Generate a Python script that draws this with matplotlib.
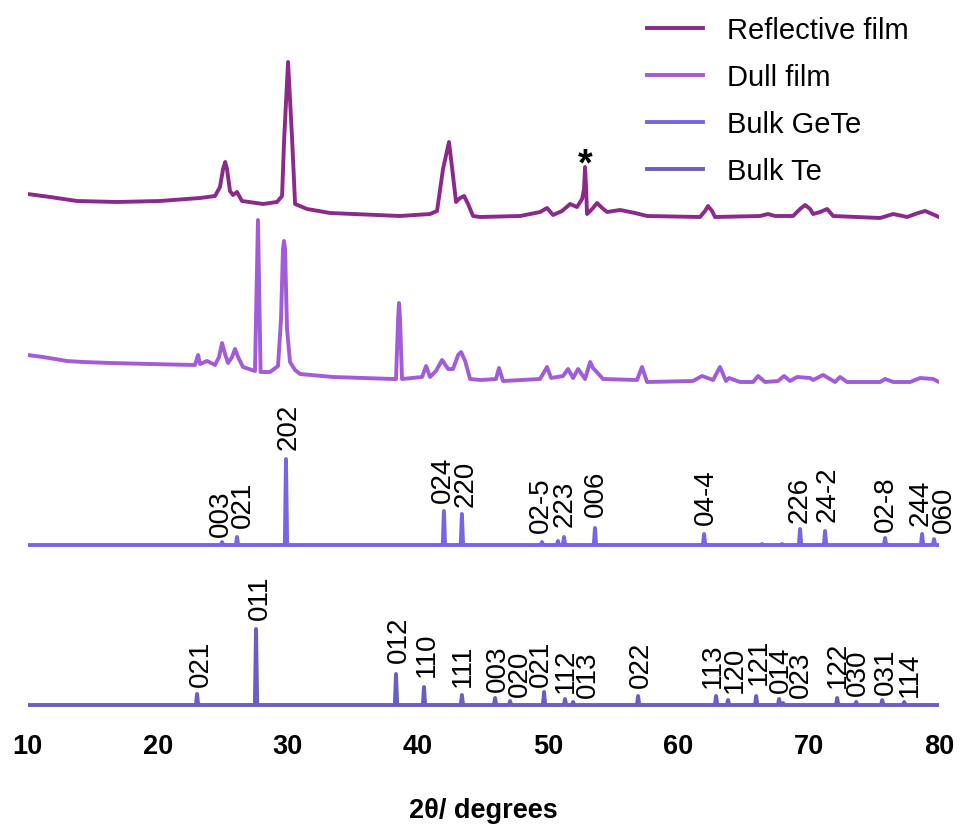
import matplotlib
matplotlib.use("Agg")
import matplotlib.pyplot as plt

plt.rcParams['font.family'] = ['Liberation Sans', 'DejaVu Sans']

# ---------------- data ----------------
refl_2theta = [10.0, 11.73, 13.80, 16.87, 20.18, 23.25, 24.40, 24.78, 25.02, 25.18, 25.32,
               25.55, 25.78, 26.09, 26.47, 28.09, 29.16, 29.55, 29.71, 30.01,
               30.32, 30.55, 31.47, 33.24, 38.61, 40.91, 41.45, 41.91, 42.37, 42.68,
               42.91, 43.22, 43.53, 43.83, 44.22, 44.75, 47.83, 49.37, 49.90, 50.36,
               51.05, 51.67, 52.20, 52.59, 52.74, 52.82, 52.90, 52.97, 53.36, 53.74,
               54.13, 54.51, 55.51, 56.66, 57.58, 61.65, 62.03, 62.26, 62.57, 62.80,
               66.26, 66.87, 67.41, 68.79, 69.33, 69.72, 70.10, 70.33, 70.87, 71.41,
               71.87, 75.48, 76.48, 77.55, 78.40, 78.94, 79.48, 80.0]
refl_int = [25, 22, 18, 17, 18, 21, 23, 32, 50, 57, 50,
            28, 24, 27, 18, 15, 17, 23, 80, 157,
            80, 15, 10, 6, 3, 5, 8, 50, 77, 43,
            17, 21, 23, 15, 3, 2, 3, 7, 11, 4,
            8, 15, 12, 20, 30, 52, 30, 5, 10, 16,
            11, 7, 9, 6, 3, 2, 8, 13, 8, 2,
            3, 5, 3, 3, 10, 14, 10, 5, 7, 10,
            3, 1, 5, 2, 6, 8, 5, 2]

dull_2theta = [10.0, 11.19, 13.03, 14.26, 16.34, 19.41, 22.86, 23.10, 23.25, 23.79, 24.40, 24.71,
               24.94, 25.17, 25.40, 25.71, 25.94, 26.17, 26.55, 27.47, 27.70, 27.90,
               28.63, 29.24, 29.47, 29.62, 29.70, 29.78, 29.93, 30.16, 30.55, 30.93,
               33.47, 38.07, 38.30, 38.46, 38.53, 38.61, 38.76, 40.30, 40.61, 40.91,
               41.37, 41.84, 42.30, 42.68, 43.07, 43.30, 43.61, 43.99, 44.83, 45.98,
               46.21, 46.52, 49.36, 49.90, 50.21, 51.13, 51.51, 51.90, 52.28, 52.82,
               53.21, 53.43, 54.20, 56.81, 57.19, 57.58, 61.11, 61.80, 62.65, 63.18,
               63.64, 63.87, 64.72, 65.72, 66.10, 66.64, 67.64, 68.10, 68.56, 69.10,
               70.10, 70.33, 71.10, 72.02, 72.40, 72.94, 75.48, 75.86, 76.48, 77.78,
               78.55, 79.55, 80.0]
dull_int = [28, 26, 22, 21, 20, 19, 18, 28, 19, 22, 18, 26,
            40, 29, 20, 26, 34, 26, 16, 12, 163, 11,
            11, 17, 64, 134, 142, 134, 54, 21, 13, 9,
            6, 4, 4, 64, 80, 64, 4, 6, 17, 6,
            12, 23, 14, 14, 28, 31, 22, 4, 3, 4,
            15, 2, 4, 16, 5, 7, 14, 5, 14, 4,
            21, 15, 4, 3, 16, 1, 2, 7, 3, 16,
            2, 5, 1, 1, 7, 1, 2, 7, 2, 6,
            5, 3, 8, 1, 6, 1, 1, 4, 1, 1,
            5, 4, 1]

gete_pos = [24.94, 26.09, 29.85, 41.98, 43.36, 49.51, 50.74, 51.20, 53.58, 61.96,
            66.41, 67.95, 69.33, 71.25, 75.86, 78.70, 79.62]
gete_int = [3, 8, 86, 34, 31, 3, 4, 8, 17, 11,
            1, 1, 16, 14, 7, 11, 6]
gete_hkl = ['003', '021', '202', '024', '220', '02-5', '', '223', '006', '04-4',
            '', '', '226', '24-2', '02-8', '244', '060']

te_pos = [23.02, 27.55, 38.30, 40.45, 43.36, 45.91, 47.06, 49.67, 51.28, 51.90,
          56.89, 62.88, 63.80, 65.96, 67.72, 68.03, 72.18, 73.64, 75.64, 77.33]
te_int = [11, 76, 31, 18, 10, 7, 4, 13, 6, 3,
          9, 9, 5, 9, 6, 2, 7, 3, 5, 3]
te_hkl = ['021', '011', '012', '110', '111', '003', '020', '021', '112', '013',
          '022', '113', '120', '121', '014', '023', '122', '030', '031', '114']

series_names = ['Reflective film', 'Dull film', 'Bulk GeTe', 'Bulk Te']

# ---------------- layout / style ----------------
colors = ['#8B2A8C', '#A25BD9', '#7B64E3', '#6A5EC2']
offsets = [500, 336, 174, 14]
LW = 2.8

# label anchors (2theta, height above stack baseline in plot units)
gete_lab_x = [24.65, 26.32, 29.85, 41.68, 43.44, 49.21, None, 51.05, 53.43, 61.88,
              None, None, 69.10, 71.25, 75.70, 78.39, 80.16]
gete_lab_y = [9, 18, 96, 43, 39, 13, None, 19, 29, 21,
              None, None, 23, 24, 14, 20, 13]
te_lab_x = [23.10, 27.63, 38.30, 40.45, 43.22, 45.91, 47.60, 49.21, 51.13, 52.82,
            56.89, 62.41, 64.10, 65.96, 67.64, 69.18, 72.02, 73.56, 75.70, 77.55]
te_lab_y = [19, 86, 43, 29, 19, 14, 9, 19, 13, 8,
            18, 18, 13, 21, 13, 8, 18, 10, 11, 9]
LABEL_DX = 0.21


def stick_curve(pos, inten, lo=10.0, hi=80.0, hw=0.09):
    xs, ys = [lo], [0]
    for p, h in sorted(zip(pos, inten)):
        xs += [p - hw, p, p + hw]
        ys += [0, h, 0]
    xs.append(hi)
    ys.append(0)
    return xs, ys


fig = plt.figure(figsize=(9.6, 8.29), dpi=100)
ax = fig.add_axes([27.5 / 960, 109 / 829, 911.5 / 960, 720 / 829])

ax.plot(refl_2theta, [offsets[0] + v for v in refl_int], color=colors[0], lw=LW,
        label=series_names[0], solid_joinstyle='round')
ax.plot(dull_2theta, [offsets[1] + v for v in dull_int], color=colors[1], lw=LW,
        label=series_names[1], solid_joinstyle='round')
gx, gy = stick_curve(gete_pos, gete_int)
ax.plot(gx, [offsets[2] + v for v in gy], color=colors[2], lw=LW,
        label=series_names[2])
tx, ty = stick_curve(te_pos, te_int)
ax.plot(tx, [offsets[3] + v for v in ty], color=colors[3], lw=LW,
        label=series_names[3])

for lab, lx, ly in zip(gete_hkl, gete_lab_x, gete_lab_y):
    if lab:
        ax.text(lx + LABEL_DX, offsets[2] + ly, lab, rotation=90, ha='center',
                va='bottom', fontsize=20)
for lab, lx, ly in zip(te_hkl, te_lab_x, te_lab_y):
    if lab:
        ax.text(lx + LABEL_DX, offsets[3] + ly, lab, rotation=90, ha='center',
                va='bottom', fontsize=20)

# asterisk on the sharp reflective-film peak
ax.text(52.82, 545, '*', ha='center', va='baseline', fontsize=27, fontweight='bold')

ax.set_xlim(10, 80)
ax.set_ylim(0, 720)
ax.set_xticks(range(10, 81, 10))
ax.set_yticks([])
ax.tick_params(axis='x', length=0, pad=10, labelsize=19.5)
for t in ax.get_xticklabels():
    t.set_fontweight('bold')
for s in ax.spines.values():
    s.set_visible(False)
ax.set_xlabel('2θ/ degrees', fontsize=19.5, fontweight='bold')
ax.xaxis.set_label_coords(0.5, (720 - 811) / 720)
ax.xaxis.label.set_va('center')

ax.legend(loc='upper left', bbox_to_anchor=(647 / 960, 1 - 17 / 829),
          bbox_transform=fig.transFigure, frameon=False, fontsize=21,
          handlelength=1.92, handletextpad=0.82, labelspacing=0.65,
          borderpad=0, borderaxespad=0)

fig.savefig('out.png', dpi=100)
